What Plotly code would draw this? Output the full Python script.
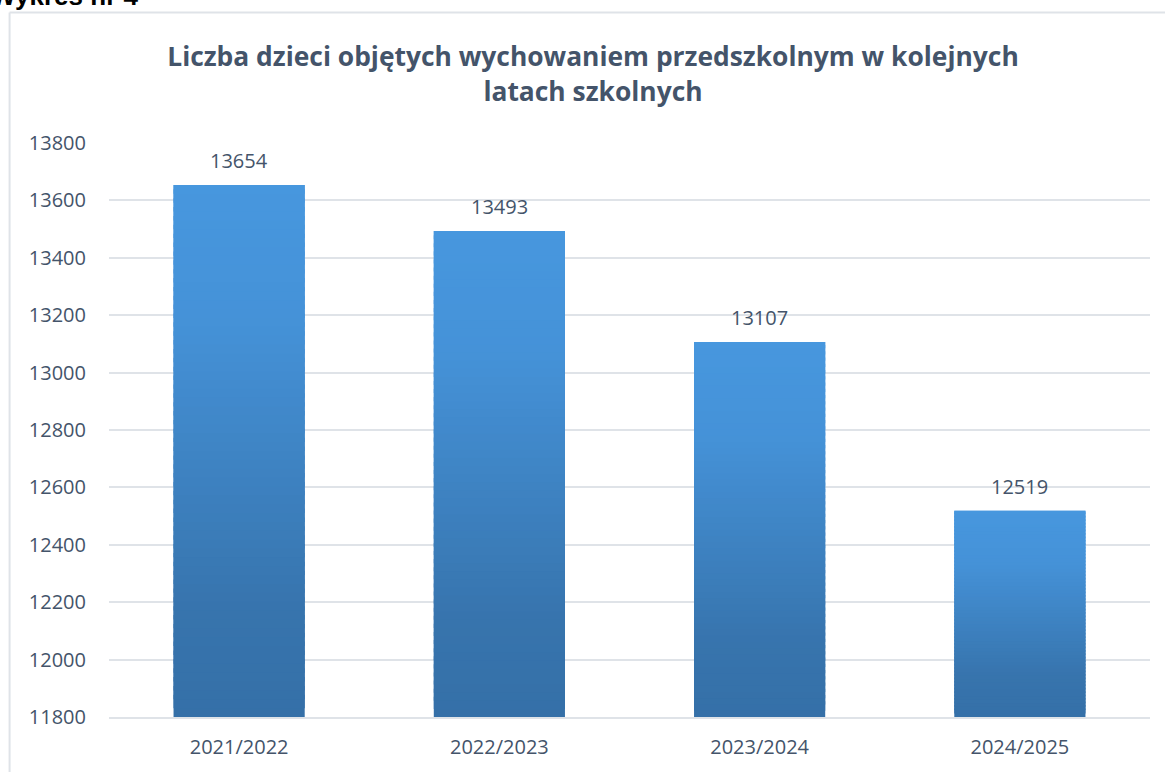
import plotly.graph_objects as go

SLATE = "#44546a"
GRID = "#dfe3e8"

years = ["2021/2022", "2022/2023", "2023/2024", "2024/2025"]
children = [13654, 13493, 13107, 12519]
y_ticks = [11800, 12000, 12200, 12400, 12600, 12800, 13000, 13200, 13400, 13600, 13800]

AXIS_MIN = 11800
AXIS_MAX = 13800
SEGMENTS = 60

# vertical gradient (bottom -> top) used in the original bars
GRADIENT = [(0.0, "#3570a8"), (0.2, "#3774ad"), (0.75, "#4592d8"), (1.0, "#4797de")]


def _hex_to_rgb(color: str) -> tuple[int, int, int]:
    color = color.lstrip("#")
    return tuple(int(color[i : i + 2], 16) for i in (0, 2, 4))


def _gradient_color(t: float) -> str:
    for (p0, c0), (p1, c1) in zip(GRADIENT, GRADIENT[1:]):
        if p0 <= t <= p1:
            f = (t - p0) / (p1 - p0)
            a, b = _hex_to_rgb(c0), _hex_to_rgb(c1)
            r, g, bl = (round(a[i] + (b[i] - a[i]) * f) for i in range(3))
            return f"rgb({r},{g},{bl})"
    return GRADIENT[-1][1]


fig = go.Figure()

# each bar is a pile of thin slices to imitate the gradient fill;
# slices overlap the next one a little so no seams show through
heights = [v - AXIS_MIN for v in children]
for k in range(SEGMENTS):
    step = [h / SEGMENTS for h in heights]
    bases = [AXIS_MIN + k * s for s in step]
    tops = [min(b + s * 2.5, v) for b, s, v in zip(bases, step, children)]
    fig.add_trace(
        go.Bar(
            x=years,
            y=[t - b for t, b in zip(tops, bases)],
            base=bases,
            marker={"color": _gradient_color((k + 0.5) / SEGMENTS), "line": {"width": 0}},
            hoverinfo="skip",
            showlegend=False,
        )
    )

for year, value in zip(years, children):
    fig.add_annotation(
        x=year,
        y=value,
        text=str(value),
        showarrow=False,
        yanchor="bottom",
        yshift=9,
        font={"family": "Open Sans, sans-serif", "size": 20, "color": SLATE},
    )

# outer frame of the chart box (left + top edges are visible)
fig.add_shape(type="line", xref="paper", yref="paper", x0=-0.0955, x1=-0.0955, y0=-0.1, y1=1.2275,
              line={"color": GRID, "width": 2})
fig.add_shape(type="line", xref="paper", yref="paper", x0=-0.0955, x1=1.02, y0=1.2275, y1=1.2275,
              line={"color": GRID, "width": 2})

fig.add_annotation(
    text="<b>Wykres nr 4</b>",
    xref="paper",
    yref="paper",
    x=0.0298,
    y=1.2267,
    xanchor="right",
    yanchor="bottom",
    showarrow=False,
    font={"family": "Liberation Sans, Arial, sans-serif", "size": 26, "color": "#000000"},
)

fig.update_layout(
    width=1165,
    height=772,
    barmode="overlay",
    bargap=0.496,
    paper_bgcolor="#ffffff",
    plot_bgcolor="#ffffff",
    margin={"l": 109, "r": 15, "t": 143, "b": 53},
    font={"family": "Open Sans, sans-serif", "color": SLATE, "size": 20},
    title={
        "text": "<b>Liczba dzieci objętych wychowaniem przedszkolnym w kolejnych<br>latach szkolnych</b>",
        "x": 0.509,
        "xanchor": "center",
        "y": 0.914,
        "yanchor": "middle",
        "font": {"family": "Open Sans, sans-serif", "size": 26.4, "color": SLATE},
    },
    xaxis={
        "type": "category",
        "showgrid": False,
        "showline": True,
        "linecolor": GRID,
        "linewidth": 2,
        "ticks": "",
        "tickfont": {"size": 20, "color": SLATE},
        "ticklabelstandoff": 11,
    },
    yaxis={
        "range": [AXIS_MIN, AXIS_MAX],
        "tickvals": y_ticks,
        "ticktext": [str(t) for t in y_ticks],
        "showgrid": True,
        "gridcolor": GRID,
        "gridwidth": 2,
        "zeroline": False,
        "ticks": "",
        "tickfont": {"size": 20, "color": SLATE},
        "ticklabelstandoff": 22,
    },
)

# the page body has a default 8px margin; drop it so the figure fills the window
fig.write_html(
    "out.html",
    config={"displayModeBar": False},
    post_script="document.body.style.margin='0';",
)
